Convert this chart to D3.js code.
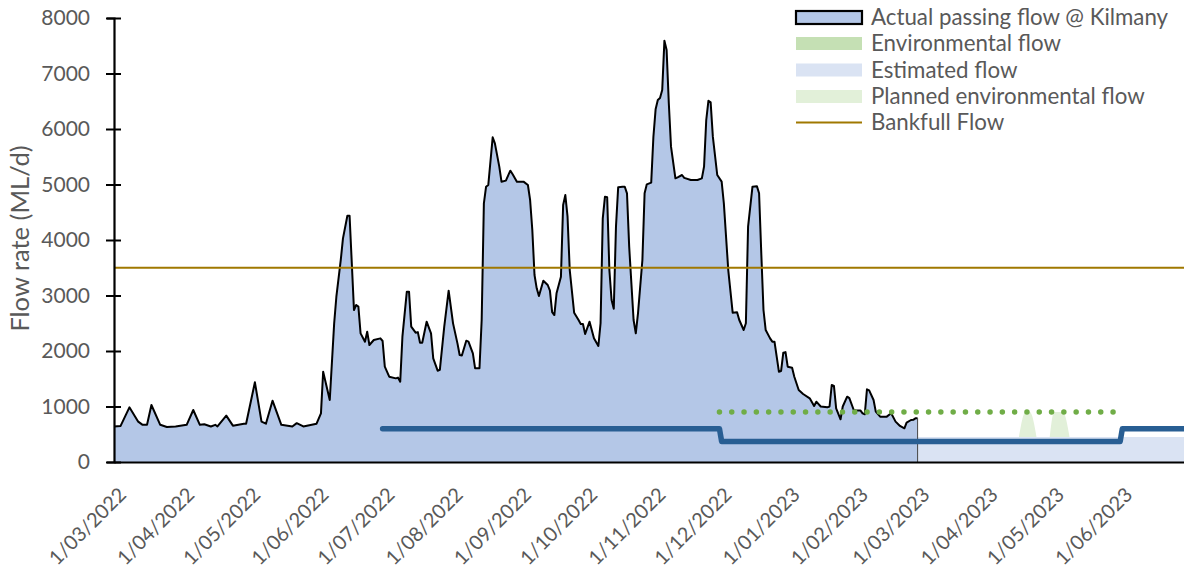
<!DOCTYPE html>
<html><head><meta charset="utf-8">
<script src="https://cdn.jsdelivr.net/npm/d3@7"></script>
<style>
body{margin:0;background:#fff}
svg{display:block}
text{font-family:Lato,"Open Sans",sans-serif;fill:#595959}
</style>
</head><body>
<svg id="chart" width="1184" height="572"></svg>
<script>
// ---------- data ----------
const actualFlow = [
["2022-03-01",640],["2022-03-04",650],["2022-03-08",985],["2022-03-12",727],["2022-03-14",670],["2022-03-16",670],
["2022-03-18",1027],["2022-03-22",670],["2022-03-25",630],["2022-03-29",640],["2022-04-03",670],["2022-04-06",937],
["2022-04-09",670],["2022-04-11",680],["2022-04-14",640],["2022-04-16",670],["2022-04-17",640],["2022-04-21",835],
["2022-04-24",655],["2022-04-29",690],["2022-04-30",690],["2022-05-04",1436],["2022-05-07",727],["2022-05-09",690],
["2022-05-12",1105],["2022-05-16",670],["2022-05-21",640],["2022-05-23",700],["2022-05-26",640],["2022-06-01",690],
["2022-06-03",877],["2022-06-04",1627],["2022-06-07",1117],["2022-06-09",2498],["2022-06-10",2978],["2022-06-12",3640],
["2022-06-13",4030],["2022-06-15",4438],["2022-06-16",4438],["2022-06-18",2739],["2022-06-19",2829],["2022-06-20",2799],
["2022-06-21",2318],["2022-06-23",2168],["2022-06-24",2348],["2022-06-25",2108],["2022-06-27",2198],["2022-06-30",2228],
["2022-07-01",2180],["2022-07-02",1717],["2022-07-04",1537],["2022-07-07",1507],["2022-07-08",1520],["2022-07-09",1447],
["2022-07-10",2258],["2022-07-12",3069],["2022-07-13",3069],["2022-07-14",2438],["2022-07-16",2330],["2022-07-17",2340],
["2022-07-18",2150],["2022-07-19",2150],["2022-07-21",2528],["2022-07-23",2318],["2022-07-24",1868],["2022-07-26",1645],
["2022-07-27",1660],["2022-07-29",2438],["2022-07-31",3087],["2022-08-02",2498],["2022-08-04",2138],["2022-08-05",1928],
["2022-08-06",1920],["2022-08-08",2186],["2022-08-09",2170],["2022-08-11",1958],["2022-08-12",1690],["2022-08-14",1690],
["2022-08-15",2559],["2022-08-16",4661],["2022-08-17",4960],["2022-08-18",4991],["2022-08-20",5850],["2022-08-21",5742],
["2022-08-23",5321],["2022-08-24",5051],["2022-08-26",5070],["2022-08-28",5249],["2022-08-29",5190],["2022-08-31",5051],
["2022-09-03",5051],["2022-09-05",4991],["2022-09-06",4721],["2022-09-07",4180],["2022-09-08",3369],["2022-09-09",3129],
["2022-09-10",2991],["2022-09-12",3267],["2022-09-14",3189],["2022-09-15",3087],["2022-09-16",2700],["2022-09-17",2648],
["2022-09-18",3039],["2022-09-20",3339],["2022-09-21",4631],["2022-09-22",4811],["2022-09-23",4420],["2022-09-24",3459],
["2022-09-26",2690],["2022-09-28",2559],["2022-09-29",2487],["2022-09-30",2487],["2022-10-01",2306],["2022-10-03",2528],
["2022-10-05",2228],["2022-10-07",2090],["2022-10-08",2500],["2022-10-09",4391],["2022-10-10",4781],["2022-10-11",4770],
["2022-10-12",3459],["2022-10-13",2919],["2022-10-14",2760],["2022-10-15",4240],["2022-10-16",4950],["2022-10-18",4960],
["2022-10-19",4960],["2022-10-20",4841],["2022-10-21",3880],["2022-10-23",2559],["2022-10-24",2318],["2022-10-25",2679],
["2022-10-27",3640],["2022-10-28",4841],["2022-10-29",5003],["2022-10-31",5033],["2022-11-01",5860],["2022-11-02",6355],
["2022-11-03",6523],["2022-11-04",6559],["2022-11-05",6703],["2022-11-06",7592],["2022-11-07",7423],["2022-11-08",6463],
["2022-11-09",5682],["2022-11-11",5111],["2022-11-12",5130],["2022-11-14",5171],["2022-11-15",5120],["2022-11-18",5081],
["2022-11-21",5081],["2022-11-23",5111],["2022-11-24",5321],["2022-11-25",6162],["2022-11-26",6510],["2022-11-27",6480],
["2022-11-28",5862],["2022-11-30",5171],["2022-12-02",5051],["2022-12-03",4661],["2022-12-05",3459],["2022-12-07",2690],
["2022-12-09",2700],["2022-12-10",2559],["2022-12-12",2378],["2022-12-13",2500],["2022-12-14",4240],["2022-12-16",4960],
["2022-12-18",4970],["2022-12-19",4841],["2022-12-20",3760],["2022-12-21",2739],["2022-12-22",2378],["2022-12-24",2228],
["2022-12-25",2168],["2022-12-26",2168],["2022-12-27",1898],["2022-12-28",1627],["2022-12-29",1640],["2022-12-30",1970],
["2022-12-31",1980],["2023-01-01",1717],["2023-01-03",1700],["2023-01-04",1537],["2023-01-06",1297],["2023-01-08",1225],
["2023-01-11",1147],["2023-01-13",1009],["2023-01-14",1087],["2023-01-16",1000],["2023-01-19",985],["2023-01-20",1000],
["2023-01-21",1387],["2023-01-22",1370],["2023-01-23",967],["2023-01-25",769],["2023-01-26",1000],["2023-01-28",1177],
["2023-01-29",1150],["2023-01-31",937],["2023-02-01",930],["2023-02-03",930],["2023-02-04",877],["2023-02-05",860],
["2023-02-06",1309],["2023-02-07",1290],["2023-02-09",1117],["2023-02-10",907],["2023-02-12",817],["2023-02-15",817],
["2023-02-17",877],["2023-02-19",727],["2023-02-21",649],["2023-02-23",607],["2023-02-24",709],["2023-02-26",757],
["2023-02-27",760],["2023-02-28",787],["2023-03-01",790]
];
const deliveredEnvFlow = [["2022-07-01",600],["2022-12-01",600],["2022-12-02",370],["2023-06-01",370],["2023-06-02",600],["2023-06-30",600]];
const targetEnvFlow = [["2022-12-01",900],["2023-05-31",900]];
const estimatedFlow = [["2023-03-01",450],["2023-06-30",450]];
const plannedEnvFlow = [
  [["2023-04-16",450],["2023-04-19",900],["2023-04-21",900],["2023-04-24",450]],
  [["2023-04-30",450],["2023-05-02",900],["2023-05-06",900],["2023-05-09",450]]
];
const bankfullFlow = 3500;
const xTickDates = ["2022-03-01","2022-04-01","2022-05-01","2022-06-01","2022-07-01","2022-08-01","2022-09-01","2022-10-01",
  "2022-11-01","2022-12-01","2023-01-01","2023-02-01","2023-03-01","2023-04-01","2023-05-01","2023-06-01"];
const yTickValues = [0,1000,2000,3000,4000,5000,6000,7000,8000];
const xDomain = ["2022-03-01","2023-06-30"];
const legendLabels = ["Actual passing flow @ Kilmany","Environmental flow","Estimated flow","Planned environmental flow","Bankfull Flow"];
const yTitle = "Flow rate (ML/d)";

// ---------- chart ----------
const parse = d3.utcParse("%Y-%m-%d");
const svg = d3.select("#chart");
const x = d3.scaleUtc().domain(xDomain.map(parse)).range([114, 1184]);
const y = d3.scaleLinear().domain([0, 8000]).range([462, 18]);

const C = {actual:"#B4C7E7", estimated:"#DAE3F3", planned:"#E2F0D9", env:"#C5E0B4", bank:"#A07800", blue:"#285E93", green:"#70AD47"};

// estimated flow area
svg.append("path").datum(estimatedFlow)
  .attr("fill", C.estimated)
  .attr("d", d3.area().x(d => x(parse(d[0]))).y0(y(0)).y1(d => y(d[1])));

// planned env flow bumps
plannedEnvFlow.forEach(seg => {
  svg.append("path").datum(seg)
    .attr("fill", C.planned)
    .attr("d", d3.area().curve(d3.curveMonotoneX).x(d => x(parse(d[0]))).y0(y(estimatedFlow[0][1])).y1(d => y(d[1])));
});

// actual flow area
svg.append("path").datum(actualFlow)
  .attr("fill", C.actual)
  .attr("d", d3.area().x(d => x(parse(d[0]))).y0(y(0)).y1(d => y(d[1])));
svg.append("path").datum(actualFlow)
  .attr("fill", "none").attr("stroke", "#000").attr("stroke-width", 2).attr("stroke-linejoin","round")
  .attr("d", d3.line().x(d => x(parse(d[0]))).y(d => y(d[1])));
const last = actualFlow[actualFlow.length - 1];
svg.append("line")
  .attr("x1", x(parse(last[0]))).attr("x2", x(parse(last[0])))
  .attr("y1", y(last[1])).attr("y2", y(0))
  .attr("stroke", "#444").attr("stroke-width", 1);

// bankfull
svg.append("line")
  .attr("x1", x.range()[0]).attr("x2", x.range()[1])
  .attr("y1", y(bankfullFlow)).attr("y2", y(bankfullFlow))
  .attr("stroke", C.bank).attr("stroke-width", 2.2);

// delivered env flow (thick blue)
svg.append("path").datum(deliveredEnvFlow)
  .attr("fill", "none").attr("stroke", C.blue).attr("stroke-width", 5.5)
  .attr("stroke-linecap", "round").attr("stroke-linejoin", "round")
  .attr("d", d3.line().x(d => x(parse(d[0]))).y(d => y(d[1])));

// target env flow (green dots)
svg.append("path").datum(targetEnvFlow)
  .attr("fill", "none").attr("stroke", C.green).attr("stroke-width", 5.5)
  .attr("stroke-linecap", "round").attr("stroke-dasharray", "0 12.3")
  .attr("d", d3.line().x(d => x(parse(d[0]))).y(d => y(d[1])));

// axes
const yAxis = svg.append("g").attr("transform", `translate(${x.range()[0]},0)`)
  .call(d3.axisLeft(y).tickValues(yTickValues).tickSize(7).tickPadding(17).tickFormat(d3.format("d")));
yAxis.select(".domain").attr("stroke", "#000").attr("stroke-width", 2.2);
yAxis.selectAll(".tick line").attr("x1", -8).attr("x2", 7).attr("stroke", "#000").attr("stroke-width", 2);
yAxis.selectAll(".tick text").attr("font-size", 21).attr("font-family", "Lato").attr("fill", "#595959");

const xAxis = svg.append("g").attr("transform", `translate(0,${y(0)})`)
  .call(d3.axisBottom(x).tickValues(xTickDates.map(parse)).tickSize(0).tickFormat(d3.utcFormat("%-d/%m/%Y")));
xAxis.select(".domain").attr("stroke", "#000").attr("stroke-width", 2.2);
xAxis.selectAll(".tick text")
  .attr("font-size", 20).attr("font-family", "Lato").attr("fill", "#595959")
  .attr("text-anchor", "end")
  .attr("transform", "translate(8,29) rotate(-45)")
  .attr("dy", "0.35em").attr("y", 0);

// y title
svg.append("text")
  .attr("transform", "translate(29,238.5) rotate(-90)")
  .attr("text-anchor", "middle").attr("font-size", 25.5)
  .text(yTitle);

// legend
const lg = svg.append("g");
const rowY = [17.5, 43.5, 70, 96.5, 122.5];
legendLabels.forEach((lab, i) => {
  const cy = rowY[i];
  if (i === 4) {
    lg.append("line").attr("x1", 796).attr("x2", 862).attr("y1", cy).attr("y2", cy)
      .attr("stroke", C.bank).attr("stroke-width", 2.2);
  } else {
    const fill = [C.actual, C.env, C.estimated, C.planned][i];
    lg.append("rect").attr("x", 796).attr("y", cy - 6.5).attr("width", 66).attr("height", 13)
      .attr("fill", fill)
      .attr("stroke", i === 0 ? "#000" : "none").attr("stroke-width", 2.2);
  }
  lg.append("text").attr("x", 871).attr("y", cy).attr("dy", "0.35em")
    .attr("font-size", 22.3).text(lab);
});
</script>
</body></html>
